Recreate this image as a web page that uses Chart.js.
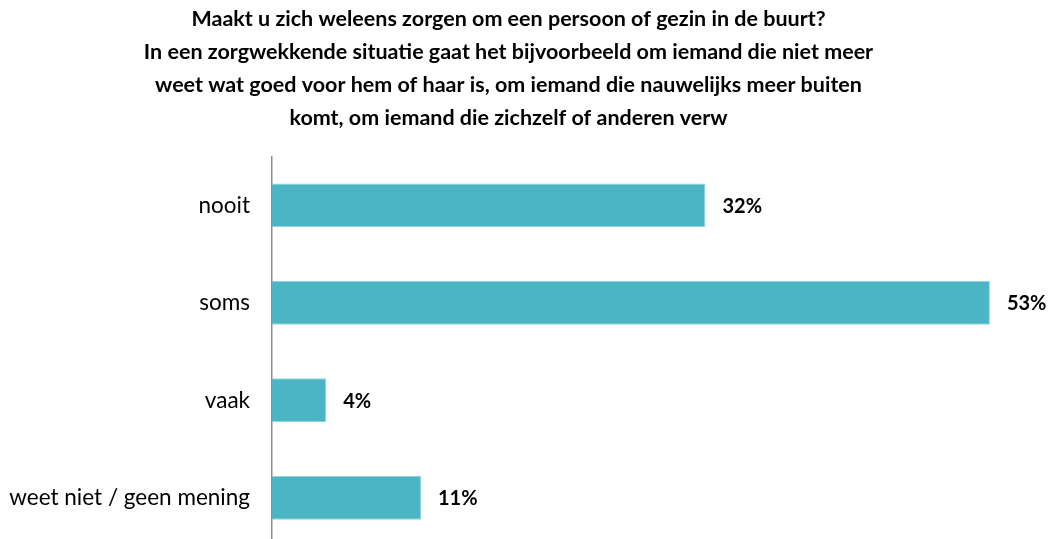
<!DOCTYPE html>
<html>
<head>
<meta charset="utf-8">
<script src="https://cdn.jsdelivr.net/npm/chart.js@4"></script>
<style>
  html, body { margin: 0; padding: 0; background: #fff; overflow: hidden; }
  #wrap { position: relative; width: 1051px; height: 582px; }
</style>
</head>
<body>
<div id="wrap"><canvas id="chart"></canvas></div>
<script>
// antwoorden en percentages
const categories = ["nooit", "soms", "vaak", "weet niet / geen mening"];
const percentages = [32, 53, 4, 11];
const titleLines = [
  "Maakt u zich weleens zorgen om een persoon of gezin in de buurt?",
  "In een zorgwekkende situatie gaat het bijvoorbeeld om iemand die niet meer",
  "weet wat goed voor hem of haar is, om iemand die nauwelijks meer buiten",
  "komt, om iemand die zichzelf of anderen verw"
];

const fontName = "Lato";

// percentage rechts naast elke balk
const valueLabels = {
  id: "valueLabels",
  afterDatasetsDraw(chart) {
    const ctx = chart.ctx;
    const meta = chart.getDatasetMeta(0);
    ctx.save();
    ctx.font = "bold 20px " + fontName;
    ctx.fillStyle = "#000";
    ctx.textBaseline = "middle";
    meta.data.forEach((bar, i) => {
      ctx.fillText(percentages[i] + "%", bar.x + 17, bar.y + 1);
    });
    ctx.restore();
  }
};

let ctx = document.getElementById("chart").getContext("2d");
let myChart = new Chart(ctx, {
  type: "bar",
  data: {
    labels: categories,
    datasets: [{
      data: percentages,
      backgroundColor: "#4bb5c6",
      borderColor: "#8fd3de",
      borderWidth: 1,
      barPercentage: 0.45,
      categoryPercentage: 1
    }]
  },
  options: {
    indexAxis: "y",
    responsive: true,
    maintainAspectRatio: false,
    animation: false,
    layout: { padding: { left: 0, right: 34, top: 0, bottom: 0 } },
    plugins: {
      legend: { display: false },
      tooltip: { enabled: false },
      title: {
        display: true,
        text: titleLines,
        color: "#000",
        font: { family: fontName, size: 21.5, weight: "bold", lineHeight: 1.53 },
        padding: { top: 3, bottom: 22 }
      }
    },
    scales: {
      x: {
        display: false,
        min: 0,
        max: 55,
        ticks: { display: false },
        grid: { display: false },
        afterFit(scale) { scale.height = 0; }
      },
      y: {
        afterFit(scale) { scale.width = 272; },
        grid: { display: false, drawTicks: false },
        border: { display: true, color: "#8c8c8c", width: 1.5 },
        ticks: {
          color: "#000",
          padding: 22,
          font: { family: fontName, size: 22.5 }
        }
      }
    }
  },
  plugins: [valueLabels]
});
</script>
</body>
</html>
